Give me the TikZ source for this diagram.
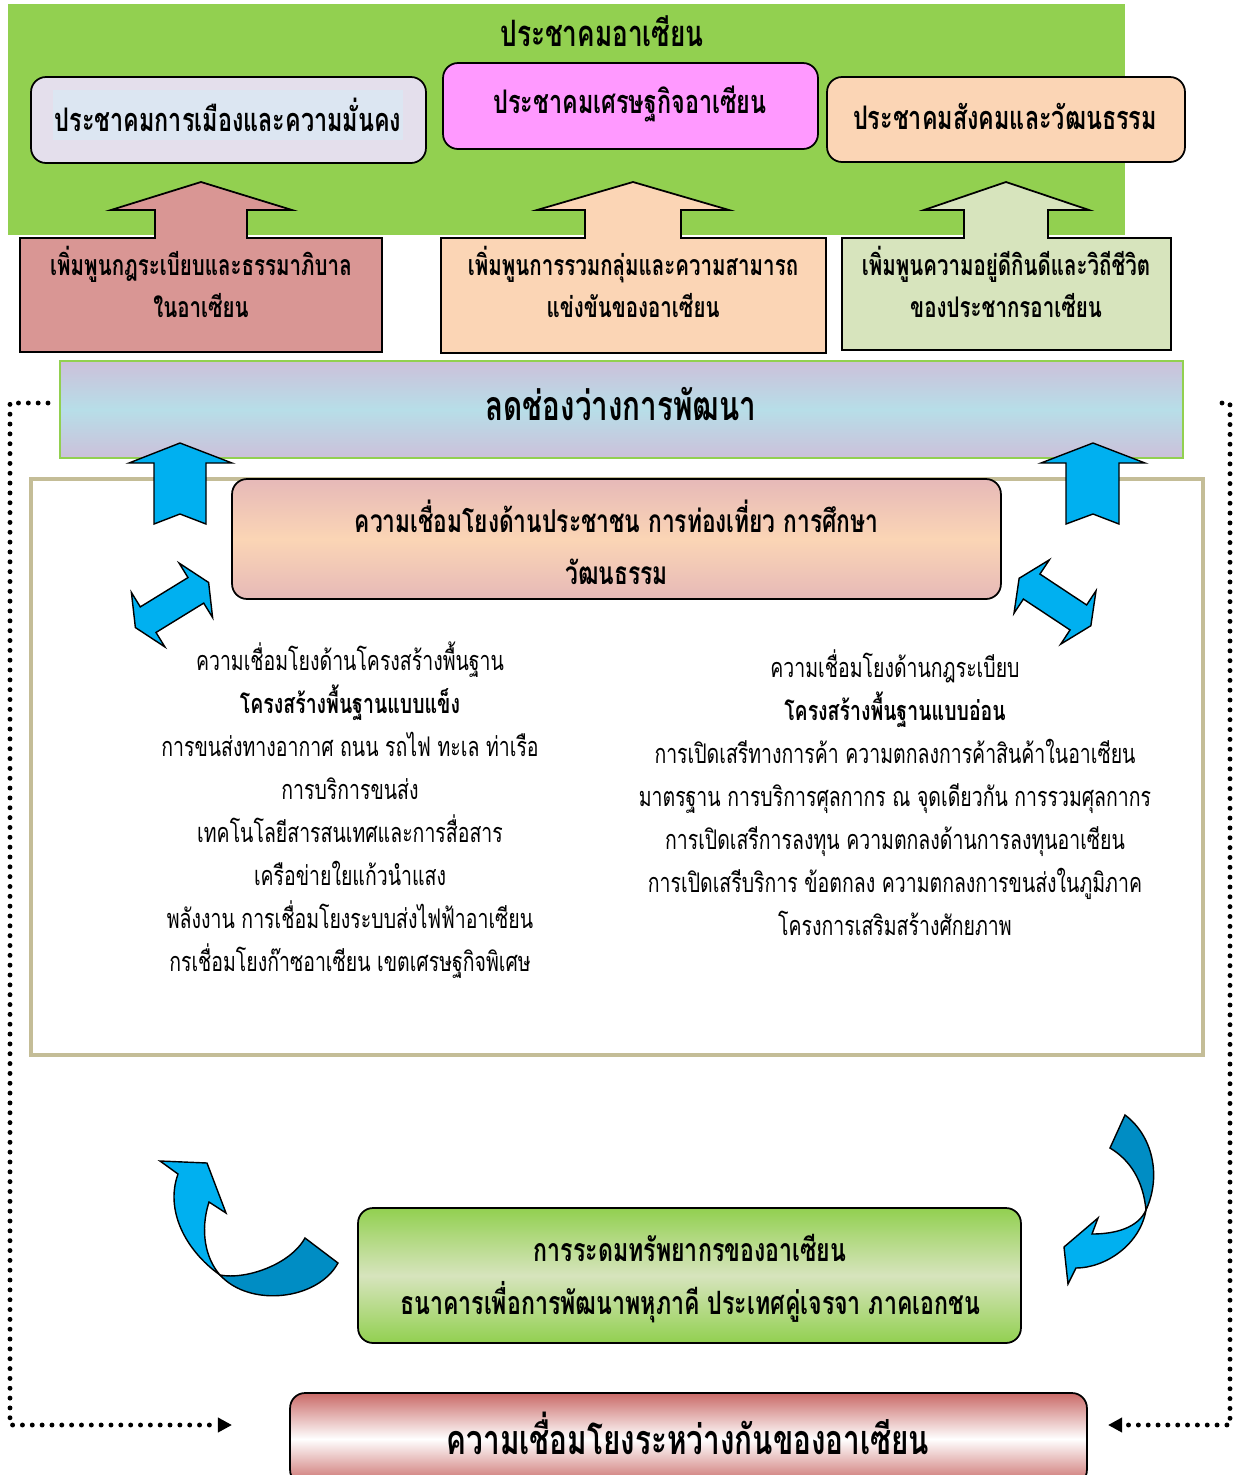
\documentclass[tikz,border=0pt]{standalone}
\usepackage{fontspec}
\newfontfamily\thaifont[Script=Thai,FakeStretch=0.72]{Loma}
\usetikzlibrary{arrows.meta}

\definecolor{aseangreen}{HTML}{92D050}
\definecolor{polgray}{HTML}{E4DFEC}
\definecolor{polblue}{HTML}{DCE6F2}
\definecolor{ecopink}{HTML}{FF99FF}
\definecolor{socpeach}{HTML}{FBD5B5}
\definecolor{rulered}{HTML}{D99694}
\definecolor{lifegreen}{HTML}{D7E4BD}
\definecolor{gaplilac}{HTML}{CCC0DA}
\definecolor{gapblue}{HTML}{B7DEE8}
\definecolor{framekhaki}{HTML}{C4BD97}
\definecolor{peoplepink}{HTML}{E6B9B8}
\definecolor{arrowblue}{HTML}{00B0F0}
\definecolor{arrowdark}{HTML}{008DC4}
\definecolor{linkred}{HTML}{C0504D}

\tikzset{
  capbox/.style={draw, line width=1pt, rounded corners=0.3cm},
  boldtxt/.style 2 args={font=\thaifont\bfseries\fontsize{#1}{#2}\selectfont, align=center},
  listtxt/.style={font=\thaifont\fontsize{15.4}{24.5}\selectfont, align=center},
  blockarrow/.style={draw, line width=1pt, line join=miter},
  bluearrow/.style={draw, line width=0.8pt, fill=arrowblue},
  loopline/.style={line width=2.8pt, line cap=round, dash pattern=on 0pt off 5.6pt}
}

\begin{document}
\begin{tikzpicture}[x=0.02cm, y=-0.02cm]
    \path[fill=white] (0,0) rectangle (1242,1475);
    \useasboundingbox (0,0) rectangle (1242,1475);

    % ASEAN community
    \fill[aseangreen] (8,4) rectangle (1125,235);
    \node[boldtxt={20.7}{24}] at (602,31) (asean) {ประชาคมอาเซียน};

    \node[capbox, fill=polgray, minimum width=7.9cm, minimum height=1.72cm] at (228.5,120) (pol) {};
    \node[capbox, fill=ecopink, minimum width=7.5cm, minimum height=1.72cm] at (630.5,106) (eco) {};
    \node[capbox, fill=socpeach, minimum width=7.16cm, minimum height=1.7cm] at (1006,119.5) (soc) {};
    \node[boldtxt={18.5}{24}, fill=polblue, inner sep=1pt, minimum width=7cm, minimum height=1cm] at (228,115) (poltxt) {ประชาคมการเมืองและความมั่นคง};
    \node[boldtxt={18.5}{24}] at (630,104) (ecotxt) {ประชาคมเศรษฐกิจอาเซียน};
    \node[boldtxt={18.5}{24}] at (1005,116.5) (soctxt) {ประชาคมสังคมและวัฒนธรรม};

    % up arrow callouts
    \draw[blockarrow, fill=rulered] (20,352) -- (20,238) -- (155,238) -- (155,210) -- (111,210) -- (201,182)
        -- (292,210) -- (247,210) -- (247,238) -- (382,238) -- (382,352) -- cycle;
    \draw[blockarrow, fill=socpeach] (441,353) -- (441,238) -- (585,238) -- (585,210) -- (537,210) -- (633,182)
        -- (729,210) -- (681,210) -- (681,238) -- (826,238) -- (826,353) -- cycle;
    \draw[blockarrow, fill=lifegreen] (842,350) -- (842,238) -- (964,238) -- (964,210) -- (924,210) -- (1006,182)
        -- (1089,210) -- (1048,210) -- (1048,238) -- (1171,238) -- (1171,350) -- cycle;
    \node[boldtxt={16.2}{23.8}] at (201,282) (rules) {เพิ่มพูนกฎระเบียบและธรรมาภิบาล\\ในอาเซียน};
    \node[boldtxt={16.2}{23.8}] at (633,282) (integ) {เพิ่มพูนการรวมกลุ่มและความสามารถ\\แข่งขันของอาเซียน};
    \node[boldtxt={16.2}{23.8}] at (1006,282) (life) {เพิ่มพูนความอยู่ดีกินดีและวิถีชีวิต\\ของประชากรอาเซียน};

    % narrowing the gap
    \node[draw=aseangreen, line width=1.1pt, top color=gaplilac, bottom color=gaplilac, middle color=gapblue,
          minimum width=22.46cm, minimum height=1.94cm] at (621.5,409.5) (gap) {};
    \node[boldtxt={23.4}{30}] at (621,404) (gaptxt) {ลดช่องว่างการพัฒนา};

    % connectivity frame
    \draw[framekhaki, line width=2.3pt] (31,479) rectangle (1203,1055);
    \node[capbox, top color=peoplepink, bottom color=peoplepink, middle color=socpeach,
          minimum width=15.38cm, minimum height=2.4cm] at (616.5,539) (people) {};
    \node[boldtxt={18}{29.5}] at (616.5,542) (peopletxt) {ความเชื่อมโยงด้านประชาชน การท่องเที่ยว การศึกษา\\วัฒนธรรม};

    \draw[bluearrow] (154,524) -- (154,463) -- (129,463) -- (180,443) -- (232,463) -- (206,463) -- (206,524) -- (180,514) -- cycle;
    \draw[bluearrow] (1066,524) -- (1066,463) -- (1041,463) -- (1093,443) -- (1145,463) -- (1119,463) -- (1119,524) -- (1093,514) -- cycle;

    \begin{scope}[shift={(172,605)}, rotate=31.6]
        \draw[bluearrow] (-43,0) -- (-28,32) -- (-28,15) -- (28,15) -- (28,32) -- (43,0) -- (28,-32) -- (28,-15)
            -- (-28,-15) -- (-28,-32) -- cycle;
    \end{scope}
    \begin{scope}[shift={(1055,602)}, rotate=-33.5]
        \draw[bluearrow] (-43,0) -- (-28,32) -- (-28,15) -- (28,15) -- (28,32) -- (43,0) -- (28,-32) -- (28,-15)
            -- (-28,-15) -- (-28,-32) -- cycle;
    \end{scope}

    \node[listtxt] at (350,810) (hard) {ความเชื่อมโยงด้านโครงสร้างพื้นฐาน\\
        {\bfseries โครงสร้างพื้นฐานแบบแข็ง}\\
        การขนส่งทางอากาศ ถนน รถไฟ ทะเล ท่าเรือ\\
        การบริการขนส่ง\\
        เทคโนโลยีสารสนเทศและการสื่อสาร\\
        เครือข่ายใยแก้วนำแสง\\
        พลังงาน การเชื่อมโยงระบบส่งไฟฟ้าอาเซียน\\
        กรเชื่อมโยงก๊าซอาเซียน เขตเศรษฐกิจพิเศษ};
    \node[listtxt] at (895,792.5) (soft) {ความเชื่อมโยงด้านกฎระเบียบ\\
        {\bfseries โครงสร้างพื้นฐานแบบอ่อน}\\
        การเปิดเสรีทางการค้า ความตกลงการค้าสินค้าในอาเซียน\\
        มาตรฐาน การบริการศุลกากร ณ จุดเดียวกัน การรวมศุลกากร\\
        การเปิดเสรีการลงทุน ความตกลงด้านการลงทุนอาเซียน\\
        การเปิดเสรีบริการ ข้อตกลง ความตกลงการขนส่งในภูมิภาค\\
        โครงการเสริมสร้างศักยภาพ};

    % curved arrows
    \draw[bluearrow, fill=arrowdark] (220,1275) .. controls (245,1280) and (290,1265) .. (305,1238) -- (338,1263)
        .. controls (318,1300) and (250,1308) .. (220,1275) -- cycle;
    \draw[bluearrow] (220,1275) .. controls (185,1250) and (165,1210) .. (178,1174) -- (160,1161) -- (207,1163)
        -- (226,1213) -- (209,1202) .. controls (200,1230) and (205,1258) .. (220,1275) -- cycle;
    \draw[bluearrow, fill=arrowdark] (1125,1115) .. controls (1152,1135) and (1162,1175) .. (1146,1210)
        .. controls (1143,1180) and (1130,1160) .. (1110,1148) -- cycle;
    \draw[bluearrow] (1146,1210) .. controls (1140,1245) and (1105,1268) .. (1076,1268) -- (1068,1284) -- (1064,1247)
        -- (1098,1218) -- (1092,1234) .. controls (1115,1234) and (1138,1228) .. (1146,1210) -- cycle;

    % resources and interconnection
    \node[capbox, top color=aseangreen, bottom color=aseangreen, middle color=lifegreen,
          minimum width=13.26cm, minimum height=2.7cm] at (689.5,1275.5) (res) {};
    \node[boldtxt={18.3}{30}] at (690,1278.5) (restxt)
          {การระดมทรัพยากรของอาเซียน\\ธนาคารเพื่อการพัฒนาพหุภาคี ประเทศคู่เจรจา ภาคเอกชน};
    \node[capbox, top color=linkred!85, bottom color=linkred!85, middle color=white,
          minimum width=15.94cm, minimum height=1.84cm] at (688.5,1439) (link) {};
    \node[boldtxt={23.5}{30}] at (688,1433) (linktxt) {ความเชื่อมโยงระหว่างกันของอาเซียน};

    \coordinate (loopLa) at (48,403);
    \coordinate (loopLb) at (232,1425);
    \coordinate (loopRa) at (1222,403);
    \coordinate (loopRb) at (1108,1425);
    \draw[loopline, -{Triangle[length=8pt, width=8pt]}] (loopLa) -- (10,403) -- (10,1425) -- (loopLb);
    \draw[loopline, -{Triangle[length=8pt, width=8pt]}] (loopRa) -- (1230,403) -- (1230,1425) -- (loopRb);
\end{tikzpicture}
\end{document}
